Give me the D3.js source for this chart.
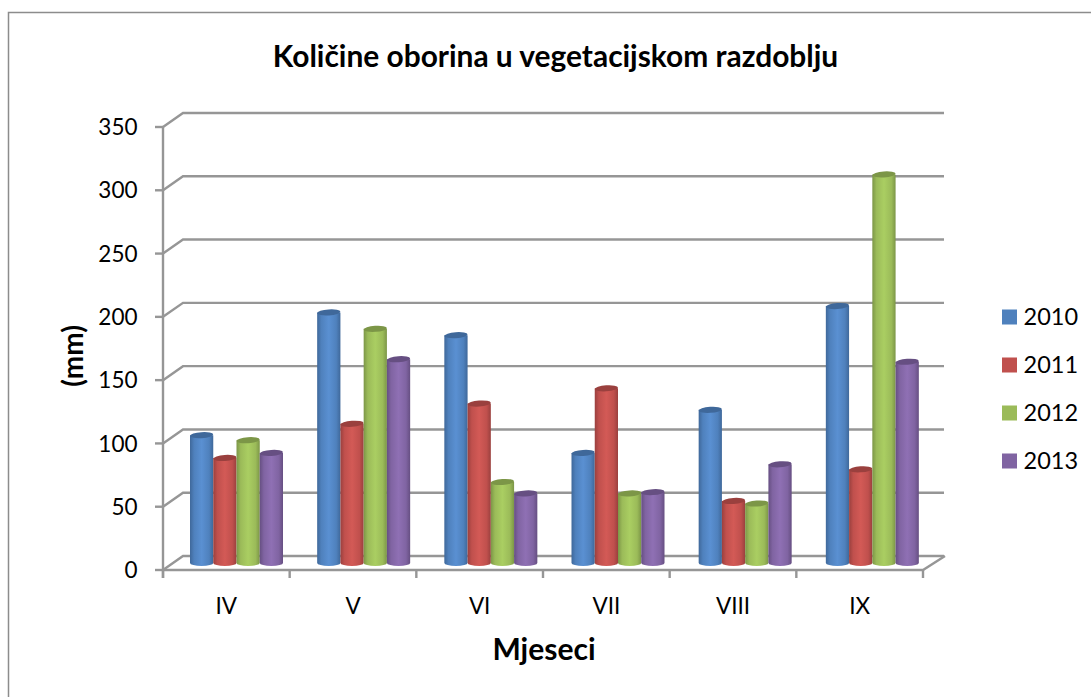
<!DOCTYPE html>
<html><head><meta charset="utf-8">
<script src="https://cdn.jsdelivr.net/npm/d3@7"></script>
<style>html,body{margin:0;padding:0;background:#fff}svg{display:block}text{font-family:Lato,"Open Sans",sans-serif;fill:#000}</style>
</head><body><script>
const categories = ["IV","V","VI","VII","VIII","IX"];
const seriesNames = ["2010","2011","2012","2013"];
const values2010 = [101,198,180,87,121,203];
const values2011 = [83,110,126,138,49,74];
const values2012 = [97,185,64,55,47,307];
const values2013 = [87,161,55,56,78,159];
const yTicks = [0,50,100,150,200,250,300,350];
const colors = ["#4f81bd","#c0504d","#9bbb59","#8064a2"];
const darks = ["#3f689a","#9a403e","#7c9647","#664f82"];
const lights = ["#5a90d2","#d35a56","#aace62","#8f70b4"];
const allValues = [values2010,values2011,values2012,values2013];

const W=1091,H=697;
const svg=d3.select("body").append("svg").attr("width",W).attr("height",H);
const defs=svg.append("defs");
colors.forEach((c,i)=>{
  const g=defs.append("linearGradient").attr("id","g"+i);
  [[0,darks[i]],[.18,colors[i]],[.5,lights[i]],[.82,colors[i]],[1,darks[i]]].forEach(s=>g.append("stop").attr("offset",s[0]).attr("stop-color",s[1]));
});
svg.append("rect").attr("x",8.5).attr("y",12.5).attr("width",W+20).attr("height",H+20).attr("fill","#fff").attr("stroke","#8c8c8c").attr("stroke-width",1.5);

const grid="#969696";
const y=d3.scaleLinear().domain([0,350]).range([570,127]);
const x=d3.scaleBand().domain(categories).range([163,923]);
const barX=d3.scaleBand().domain(categories).range([163,926]);
const dx=20,dy=-14;
const wall=svg.append("g").attr("fill","none").attr("stroke",grid).attr("stroke-width",2.4);
yTicks.forEach(t=>{
  wall.append("path").attr("d",`M${x.range()[0]},${y(t)}L${x.range()[0]+dx},${y(t)+dy}H${x.range()[1]+dx+1}`);
});
wall.append("path").attr("d",`M${x.range()[0]},${y(0)}H${x.range()[1]}L${x.range()[1]+dx+2},${y(0)+dy}`);
wall.append("path").attr("d",`M${x.range()[0]},${y(350)}V${y(0)+8}`);
yTicks.forEach(t=>wall.append("line").attr("x1",x.range()[0]-8).attr("x2",x.range()[0]).attr("y1",y(t)).attr("y2",y(t)));
categories.concat(["_end"]).forEach((c,i)=>{
  const px=c==="_end"?x.range()[1]:x(c);
  wall.append("line").attr("x1",px).attr("x2",px).attr("y1",y(0)).attr("y2",y(0)+8);
});

const barY=d3.scaleLinear().domain([0,350]).range([563,120]);
const inner=d3.scaleBand().domain(seriesNames).range([27,27+93]);
const rx=inner.bandwidth()/2, ry=3;
const bars=svg.append("g");
categories.forEach((c,ci)=>{
  seriesNames.forEach((s,si)=>{
    const v=allValues[si][ci];
    const bx=barX(c)+inner(s), w=inner.bandwidth(), t=barY(v), b=barY(0);
    bars.append("path").attr("d",`M${bx},${t}V${b}A${rx},${ry} 0 0 0 ${bx+w},${b}V${t}Z`).attr("fill",`url(#g${si})`);
    bars.append("ellipse").attr("cx",bx+rx).attr("cy",t).attr("rx",rx).attr("ry",ry).attr("transform",`rotate(-4 ${bx+rx} ${t})`).attr("fill",darks[si]);
  });
});

const tickSize=22.5;
svg.append("g").selectAll("text").data(yTicks).join("text").attr("x",137.5).attr("y",d=>y(d)).attr("dy","0.36em").attr("text-anchor","end").attr("font-size",tickSize).text(d=>d);
svg.append("g").selectAll("text").data(categories).join("text").attr("x",d=>x(d)+x.bandwidth()/2).attr("y",606).attr("dy","0.36em").attr("text-anchor","middle").attr("font-size",tickSize).text(d=>d);
svg.append("text").attr("x",555.5).attr("y",56).attr("dy","0.36em").attr("text-anchor","middle").attr("font-size",29.9).attr("font-weight",700).text("Količine oborina u vegetacijskom razdoblju");
svg.append("text").attr("x",544).attr("y",649).attr("dy","0.36em").attr("text-anchor","middle").attr("font-size",30).attr("font-weight",700).text("Mjeseci");
svg.append("text").attr("transform","translate(73,356) rotate(-90)").attr("dy","0.36em").attr("text-anchor","middle").attr("font-size",28).attr("font-weight",700).text("(mm)");

const ly=d3.scalePoint().domain(seriesNames).range([317,461]);
const leg=svg.append("g");
seriesNames.forEach((s,i)=>{
  leg.append("rect").attr("x",1002).attr("y",ly(s)-7.5).attr("width",15).attr("height",15).attr("fill",colors[i]);
  leg.append("text").attr("x",1023.5).attr("y",ly(s)).attr("dy","0.36em").attr("font-size",23.5).text(s);
});
</script></body></html>
